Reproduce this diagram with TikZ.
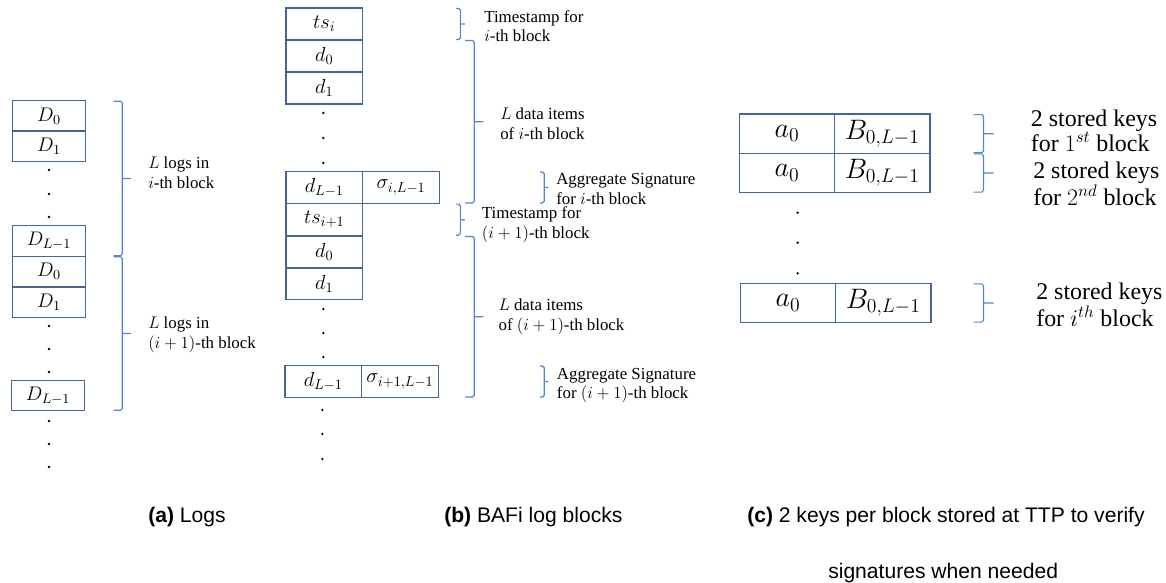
\RequirePackage{fix-cm}
\documentclass[tikz,border=0pt]{standalone}
\usepackage[no-math]{fontspec}
\setmainfont{Liberation Serif}
\newfontfamily\capfont{Liberation Sans}
\usetikzlibrary{calc}
\definecolor{boxblue}{RGB}{68,104,150}
\definecolor{braceblue}{RGB}{80,135,205}
\begin{document}
\begin{tikzpicture}[
  x=0.025cm, y=-0.025cm,
  logcell/.style={draw=boxblue, line width=0.9pt, minimum width=1.825cm, minimum height=0.76cm, inner sep=0pt, font=\fontsize{14}{16}\selectfont},
  blkcell/.style={draw=boxblue, line width=0.9pt, minimum width=1.92cm, minimum height=0.8cm, inner sep=0pt, font=\fontsize{14.5}{16}\selectfont},
  keycell/.style={draw=boxblue, line width=0.9pt, minimum width=2.385cm, minimum height=0.98cm, inner sep=0pt, font=\fontsize{20}{22}\selectfont},
  dotnode/.style={circle, fill=black, inner sep=0pt, minimum size=0.065cm},
  sqbrace/.style={draw=braceblue, line width=0.8pt, rounded corners=1.2pt,
    to path={([yshift=-0.8pt]\tikztostart) -- ([xshift=#1/2,yshift=-0.8pt]\tikztostart)
      -- ([xshift=#1/2,yshift=0.8pt]\tikztotarget) -- ([yshift=0.8pt]\tikztotarget)
      ([xshift=#1/2]$(\tikztostart)!0.5!(\tikztotarget)$) -- ([xshift=#1]$(\tikztostart)!0.5!(\tikztotarget)$)}},
  lbl/.style={anchor=west, align=left, inner sep=0pt, font=\fontsize{12}{14}\selectfont},
  keylbl/.style={anchor=west, align=left, inner sep=0pt, font=\fontsize{17}{18}\selectfont},
  captext/.style={anchor=west, inner sep=0pt, font=\capfont\fontsize{15}{18}\selectfont},
]
  \useasboundingbox (0,0) rectangle (1166,583);

  % (a) logs
  \node[logcell] (a0) at (49,116) {$D_0$};
  \node[logcell] (a1) at (49,146) {$D_1$};
  \foreach \y [count=\k] in {170,194,217} {
    \node[dotnode] (adot\k) at (49,\y) {};
  }
  \node[logcell] (aL) at (49,241) {$D_{L-1}$};
  \node[logcell] (a0n) at (49,271.5) {$D_0$};
  \node[logcell] (a1n) at (49,302.3) {$D_1$};
  \foreach \y [count=\k] in {326,349,372} {
    \node[dotnode] (adotn\k) at (49,\y) {};
  }
  \node[logcell] (aLn) at (48,395.5) {$D_{L-1}$};
  \foreach \y [count=\k] in {421,444,467} {
    \node[dotnode] (adotm\k) at (49,\y) {};
  }
  \draw[sqbrace=0.44cm] (113.5,0 |- a0.north) to (113.5,0 |- aL.south);
  \draw[sqbrace=0.44cm] (113.5,0 |- a0n.north) to (113.5,0 |- aLn.south);
  \node[lbl] (alog1) at (148,173) {$L$ logs in\\$i$-th block};
  \node[lbl] (alog2) at (148,335) {$L$ logs in\\$(i+1)$-th block};

  % (b) BAFi log blocks
  \node[blkcell] (ts1) at (324.3,24) {$ts_i$};
  \node[blkcell] (d0i) at (324.3,56) {$d_0$};
  \node[blkcell] (d1i) at (324.3,88) {$d_1$};
  \foreach \y [count=\k] in {113,138,163} {
    \node[dotnode] (bdot\k) at (323.3,\y) {};
  }
  \node[blkcell] (dLi) at (324.3,187.5) {$d_{L-1}$};
  \node[blkcell] (sgi) at (401,187.5) {$\sigma_{i,L-1}$};
  \node[blkcell] (ts2) at (324.3,219.7) {$ts_{i+1}$};
  \node[blkcell] (d0j) at (324.3,252) {$d_0$};
  \node[blkcell] (d1j) at (324.3,283.7) {$d_1$};
  \foreach \y [count=\k] in {309,333,357} {
    \node[dotnode] (bdotn\k) at (323.3,\y) {};
  }
  \node[blkcell] (dLj) at (323.3,381.5) {$d_{L-1}$};
  \node[blkcell] (sgj) at (400,381.5) {$\sigma_{i+1,L-1}$};
  \foreach \y [count=\k] in {410,434,459} {
    \node[dotnode] (bdotm\k) at (322.3,\y) {};
  }
  \draw[sqbrace=0.22cm] (456,0 |- ts1.north) to (456,0 |- ts1.south);
  \draw[sqbrace=0.46cm] (465,0 |- d0i.north) to (465,0 |- dLi.south);
  \draw[sqbrace=0.21cm] (540,0 |- dLi.north) to (540,0 |- dLi.south);
  \draw[sqbrace=0.22cm] (456,0 |- ts2.north) to (456,0 |- ts2.south);
  \draw[sqbrace=0.46cm] (465,0 |- d0j.north) to (465,0 |- dLj.south);
  \draw[sqbrace=0.21cm] (540,0 |- dLj.north) to (540,0 |- dLj.south);
  \node[lbl] (bts1) at (484,26) {Timestamp for\\$i$-th block};
  \node[lbl] (bdat1) at (500,124) {$L$ data items\\of $i$-th block};
  \node[lbl] (bsig1) at (556,189) {Aggregate Signature\\for $i$-th block};
  \node[lbl] (bts2) at (481.7,225) {Timestamp for\\$(i+1)$-th block};
  \node[lbl] (bdat2) at (498.3,317) {$L$ data items\\of $(i+1)$-th block};
  \node[lbl] (bsig2) at (556.7,385.5) {Aggregate Signature\\for $(i+1)$-th block};

  % (c) keys at TTP
  \node[keycell] (ka1) at (787,133.7) {$a_0$};
  \node[keycell] (kb1) at (882.3,133.7) {$B_{0,L-1}$};
  \node[keycell] (ka2) at (787,173) {$a_0$};
  \node[keycell] (kb2) at (882.3,173) {$B_{0,L-1}$};
  \foreach \y [count=\k] in {212.7,242.7,273.3} {
    \node[dotnode] (cdot\k) at (797.7,\y) {};
  }
  \node[keycell] (ka3) at (788,303) {$a_0$};
  \node[keycell] (kb3) at (883.3,303) {$B_{0,L-1}$};
  \draw[sqbrace=0.5cm] (973.5,0 |- ka1.north) to (973.5,0 |- ka1.south);
  \draw[sqbrace=0.5cm] (973.5,0 |- ka2.north) to (973.5,0 |- ka2.south);
  \draw[sqbrace=0.5cm] (973.5,0 |- ka3.north) to (973.5,0 |- ka3.south);
  \node[keylbl] (kl1) at (1030.7,130.8) {2 stored keys\\for $1^{st}$ block};
  \node[keylbl] (kl2) at (1033,184) {2 stored keys\\for $2^{nd}$ block};
  \node[keylbl] (kl3) at (1036,304.7) {2 stored keys\\for $i^{th}$ block};

  % captions
  \node[captext] (capa) at (148,517) {\textbf{(a)} Logs};
  \node[captext] (capb) at (444,517) {\textbf{(b)} BAFi log blocks};
  \node[captext] (capc) at (747,517) {\textbf{(c)} 2 keys per block stored at TTP to verify};
  \node[captext] (capd) at (828,573) {signatures when needed};
\end{tikzpicture}
\end{document}
